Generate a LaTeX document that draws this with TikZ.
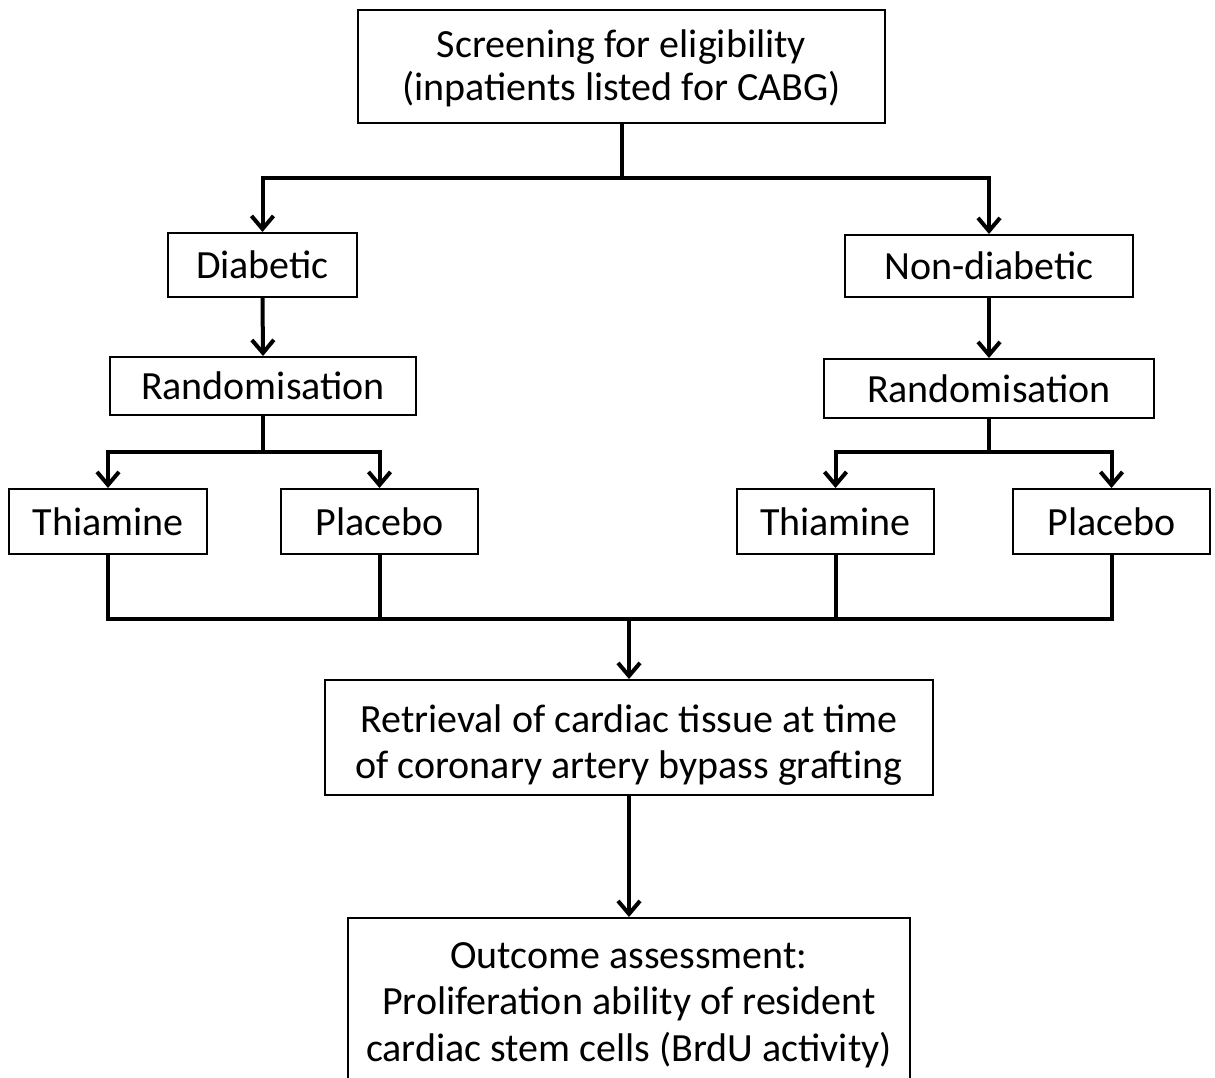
\documentclass[tikz,border=0pt]{standalone}
\usepackage{fontspec}
\setmainfont{Carlito}
\usetikzlibrary{arrows.meta}
\newcommand{\topstrut}[1]{\rule{0pt}{#1}}
\newcommand{\botstrut}[1]{\rule[-#1]{0pt}{#1}}
\begin{document}
\begin{tikzpicture}[x=1pt,y=-1pt,
  box/.style={draw=black,line width=2pt,fill=white,align=center,inner sep=0pt,
    font=\fontsize{40}{46}\selectfont},
  conn/.style={draw=black,line width=4pt},
  arr/.style={conn,-{Straight Barb[length=13pt,width=22pt]}}]
\useasboundingbox (0,0) rectangle (1215,1077);
\clip (0,0) rectangle (1215,1077);
\fill[white] (0,0) rectangle (1215,1077);
% boxes
\node[box,minimum width=527pt,minimum height=113pt,
  font=\fontsize{40}{43}\selectfont] (top) at (621.5,66.5)
  {\topstrut{38pt}Screening for eligibility\\(inpatients listed for CABG)\botstrut{14pt}};
\node[box,minimum width=189pt,minimum height=64pt] (diab) at (262.5,265) {Diabetic};
\node[box,minimum width=288pt,minimum height=62pt] (nondiab) at (989,266) {Non-diabetic};
\node[box,minimum width=306pt,minimum height=58pt] (randL) at (263,386) {Randomisation};
\node[box,minimum width=330pt,minimum height=59pt] (randR) at (989,388.5) {Randomisation};
\node[box,minimum width=198pt,minimum height=65pt] (thL) at (108,521.5) {Thiamine};
\node[box,minimum width=197pt,minimum height=65pt] (plL) at (379.5,521.5) {Placebo};
\node[box,minimum width=197pt,minimum height=65pt] (thR) at (835.5,521.5) {Thiamine};
\node[box,minimum width=197pt,minimum height=65pt] (plR) at (1111.5,521.5) {Placebo};
\node[box,minimum width=608pt,minimum height=115pt] (retr) at (629,737.5)
  {\topstrut{48pt}Retrieval of cardiac tissue at time\\of coronary artery bypass grafting\botstrut{13pt}};
\node[box,minimum width=562pt,minimum height=184pt,
  font=\fontsize{40}{46.5}\selectfont] (outc) at (629,1010)
  {\topstrut{34pt}Outcome assessment:\\Proliferation ability of resident\\cardiac stem cells (BrdU activity)\botstrut{25pt}};
% junctions
\coordinate (j1) at (621.5,178);
\coordinate (j2) at (263,452);
\coordinate (j3) at (989,452);
\coordinate (j4) at (629,619);
% connectors
\draw[conn] (top.south) -- (j1);
\draw[arr] (j1) -| (diab.north);
\draw[arr] (j1) -| (nondiab.north);
\draw[arr] (diab.south) -- (randL.north);
\draw[arr] (nondiab.south) -- (randR.north);
\draw[conn] (randL.south) -- (j2);
\draw[arr] (j2) -| (thL.north);
\draw[arr] (j2) -| (plL.north);
\draw[conn] (randR.south) -- (j3);
\draw[arr] (j3) -| (thR.north);
\draw[arr] (j3) -| (plR.north);
\draw[conn] (thL.south) |- (j4);
\draw[conn] (plL.south) |- (j4);
\draw[conn] (thR.south) |- (j4);
\draw[conn] (plR.south) |- (j4);
\draw[arr] (j4) -- (retr.north);
\draw[arr] (retr.south) -- (outc.north);
\end{tikzpicture}
\end{document}
